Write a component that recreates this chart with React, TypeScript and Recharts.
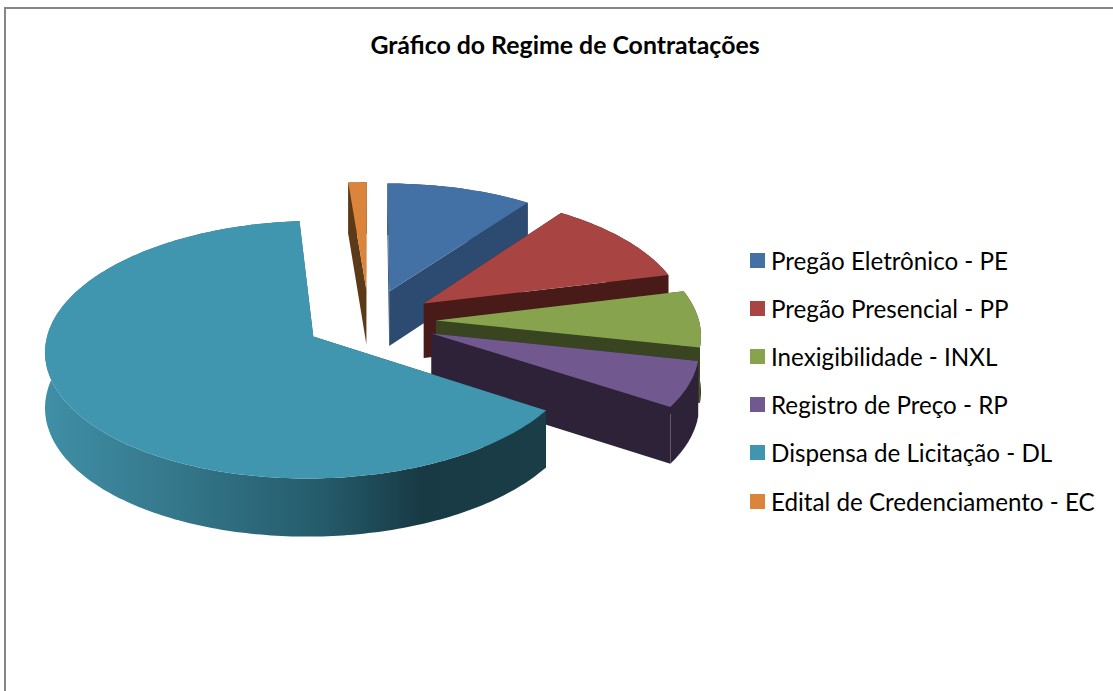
import { PieChart, Pie, Legend } from 'recharts';

const CATEGORIES = [
  'Pregão Eletrônico - PE',
  'Pregão Presencial - PP',
  'Inexigibilidade - INXL',
  'Registro de Preço - RP',
  'Dispensa de Licitação - DL',
  'Edital de Credenciamento - EC',
];
const VALUES = [10, 11.1, 7.3, 5.8, 64.5, 1.25];

const TOP_COLORS = ['#4371a6', '#a84543', '#87a34e', '#71588e', '#4096af', '#da843c'];
const WALL_COLORS = ['#2d4b70', '#481b18', '#384520', '#2d2238', 'url(#dlWall)', '#5c3a17'];

const chartData = CATEGORIES.map((name, i) => ({ name, value: VALUES[i] }));

// tilted disc: pie seen in perspective, every slice pushed out along its bisector
const TILT = 0.473;
const PERSPECTIVE = 0.1;
const EXPLODE = [0.255, 0.255, 0.255, 0.255, 0.243, 0.255];
const DEPTH = 55;

function Slice3D(props: any) {
  const { cx, cy, outerRadius, startAngle, endAngle, index } = props;
  const a0 = ((90 - startAngle) * Math.PI) / 180;
  const a1 = ((90 - endAngle) * Math.PI) / 180;
  const mid = (a0 + a1) / 2;

  const project = (theta: number, r: number, drop = 0) => {
    const u = EXPLODE[index] * Math.sin(mid) + r * Math.sin(theta);
    const v = EXPLODE[index] * Math.cos(mid) + r * Math.cos(theta);
    const w = 1 + PERSPECTIVE * v;
    const x = cx + (outerRadius * u) / w;
    const y = cy - (outerRadius * TILT * v) / w + drop * (1 - 0.05 * v);
    return `${x.toFixed(1)} ${y.toFixed(1)}`;
  };

  const steps = Math.max(2, Math.ceil(((a1 - a0) * 180) / Math.PI));
  const thetas = Array.from({ length: steps + 1 }, (_, i) => a0 + ((a1 - a0) * i) / steps);

  const apex = project(0, 0);
  const apexLow = project(0, 0, DEPTH);
  const rim = thetas.map(t => project(t, 1));
  const rimLow = thetas.map(t => project(t, 1, DEPTH));

  const wall = WALL_COLORS[index];
  return (
    <g>
      <path d={`M${apex} L${rim[0]} L${rimLow[0]} L${apexLow}Z`} fill={wall} />
      <path d={`M${apex} L${rim[steps]} L${rimLow[steps]} L${apexLow}Z`} fill={wall} />
      <path d={`M${rim.join(' L')} L${[...rimLow].reverse().join(' L')}Z`} fill={wall} />
      <path d={`M${apex} L${rim.join(' L')}Z`} fill={TOP_COLORS[index]} />
    </g>
  );
}

function LegendList() {
  return (
    <div>
      {CATEGORIES.map((name, i) => (
        <div key={name} style={{ display: 'flex', alignItems: 'center', height: 48.2, whiteSpace: 'nowrap' }}>
          <span style={{ width: 15, height: 15, marginRight: 6, background: TOP_COLORS[i], flexShrink: 0 }} />
          <span style={{ fontFamily: 'Lato', fontSize: 24.2, color: '#000' }}>{name}</span>
        </div>
      ))}
    </div>
  );
}

export default function App() {
  return (
    <div style={{ position: 'absolute', left: 0, top: 0, width: 1113, height: 691, background: '#fff', overflow: 'hidden' }}>
      <div style={{ position: 'absolute', left: 4, top: 7, right: -4, bottom: -4, borderLeft: '2px solid #868686', borderTop: '2px solid #868686' }} />
      <PieChart width={1113} height={691} margin={{ top: 0, right: 0, bottom: 0, left: 0 }} style={{ position: 'absolute', left: 0, top: 0 }}>
        <defs>
          <linearGradient id="dlWall" gradientUnits="userSpaceOnUse" x1="45" y1="0" x2="545" y2="0">
            <stop offset="0" stopColor="#3f8fa6" />
            <stop offset="0.25" stopColor="#35788c" />
            <stop offset="0.55" stopColor="#255c6c" />
            <stop offset="0.75" stopColor="#183a45" />
            <stop offset="1" stopColor="#1a3d48" />
          </linearGradient>
        </defs>
        <text x={565} y={54} textAnchor="middle" fontFamily="Lato" fontWeight={700} fontSize={24.85} fill="#000">
          Gráfico do Regime de Contratações
        </text>
        <Pie
          data={chartData}
          dataKey="value"
          nameKey="name"
          cx={369}
          cy={321}
          outerRadius={263}
          startAngle={90}
          endAngle={-270}
          stroke="none"
          shape={Slice3D}
          isAnimationActive={false}
        />
        <Legend
          content={<LegendList />}
          layout="vertical"
          align="right"
          verticalAlign="top"
          wrapperStyle={{ left: 750, right: 'auto', top: 236, width: 363 }}
        />
      </PieChart>
    </div>
  );
}
